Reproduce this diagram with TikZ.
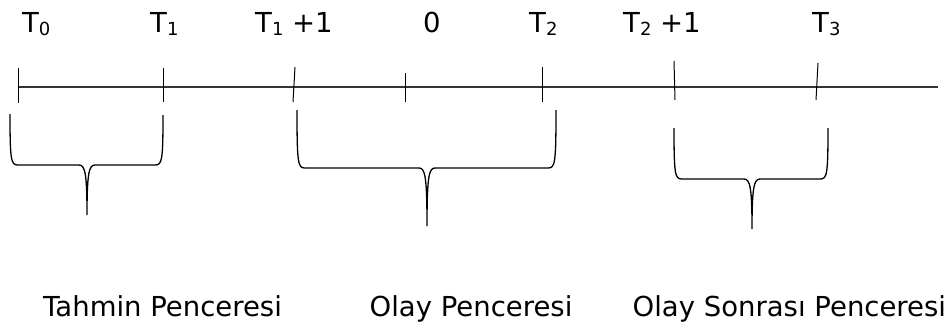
\documentclass[tikz,border=0pt]{standalone}
\usepackage{fontspec}
\setmainfont{DejaVu Sans}
\newcommand\lbsub[1]{\raisebox{-3.5pt}{\fontsize{18}{18}\selectfont #1}}
\begin{document}
\begin{tikzpicture}[x=1pt,y=-1pt,
  lab/.style={inner sep=0pt, anchor=base west, font=\fontsize{27.5}{30}\selectfont},
  axisline/.style={draw=black!80, line width=1.1pt},
  tickline/.style={draw=black, line width=1pt},
  bracestyle/.style={draw=black, line width=1.3pt}]
\useasboundingbox (0,0) rectangle (952,324);
% axis
\coordinate (ax0) at (18,87);
\coordinate (ax1) at (938,87);
\draw[axisline] (ax0) -- (ax1);
% ticks
\coordinate (k0a) at (18,68);   \coordinate (k0b) at (18,103);
\coordinate (k1a) at (163,68);  \coordinate (k1b) at (163,102);
\coordinate (k2a) at (295,67);  \coordinate (k2b) at (293,102);
\coordinate (k3a) at (405,73);  \coordinate (k3b) at (405,102);
\coordinate (k4a) at (542,67);  \coordinate (k4b) at (542,102);
\coordinate (k5a) at (674,61);  \coordinate (k5b) at (675,100);
\coordinate (k6a) at (818,63);  \coordinate (k6b) at (816,100);
\foreach \i in {0,...,6} {\draw[tickline] (k\i a) -- (k\i b);}
% top labels
\node[lab] (t0)  at (22,32)  {T\lbsub{0}};
\node[lab] (t1)  at (150,32) {T\lbsub{1}};
\node[lab] (t1p) at (255,32) {T\lbsub{1} +1};
\node[lab] (z)   at (423,32) {0};
\node[lab] (t2)  at (529,32) {T\lbsub{2}};
\node[lab] (t2p) at (623,32) {T\lbsub{2} +1};
\node[lab] (t3)  at (812,32) {T\lbsub{3}};
% braces: #1 xl, #2 ytop-left, #3 ybottom, #4 xm, #5 ytip, #6 xr, #7 ytop-right
\newcommand\winbrace[7]{%
  \draw[bracestyle] (#1,#2) .. controls (#1,#3-4) and (#1+1,#3) .. (#1+8,#3)
    -- (#4-8,#3) .. controls (#4-2,#3) and (#4,#3+8) .. (#4,#5)
    .. controls (#4,#3+8) and (#4+2,#3) .. (#4+8,#3)
    -- (#6-8,#3) .. controls (#6-1,#3) and (#6,#3-4) .. (#6,#7);}
\winbrace{10}{114}{165}{87}{215}{163}{115}
\winbrace{297}{110}{168}{427}{226}{556}{110}
\winbrace{674}{128}{179}{752}{229}{828}{128}
% bottom labels
\node[lab] (w1) at (43,316)    {Tahmin Penceresi};
\node[lab] (w2) at (369.5,316) {Olay Penceresi};
\node[lab] (w3) at (632.5,316) {Olay Sonrası Penceresi};
\end{tikzpicture}
\end{document}
